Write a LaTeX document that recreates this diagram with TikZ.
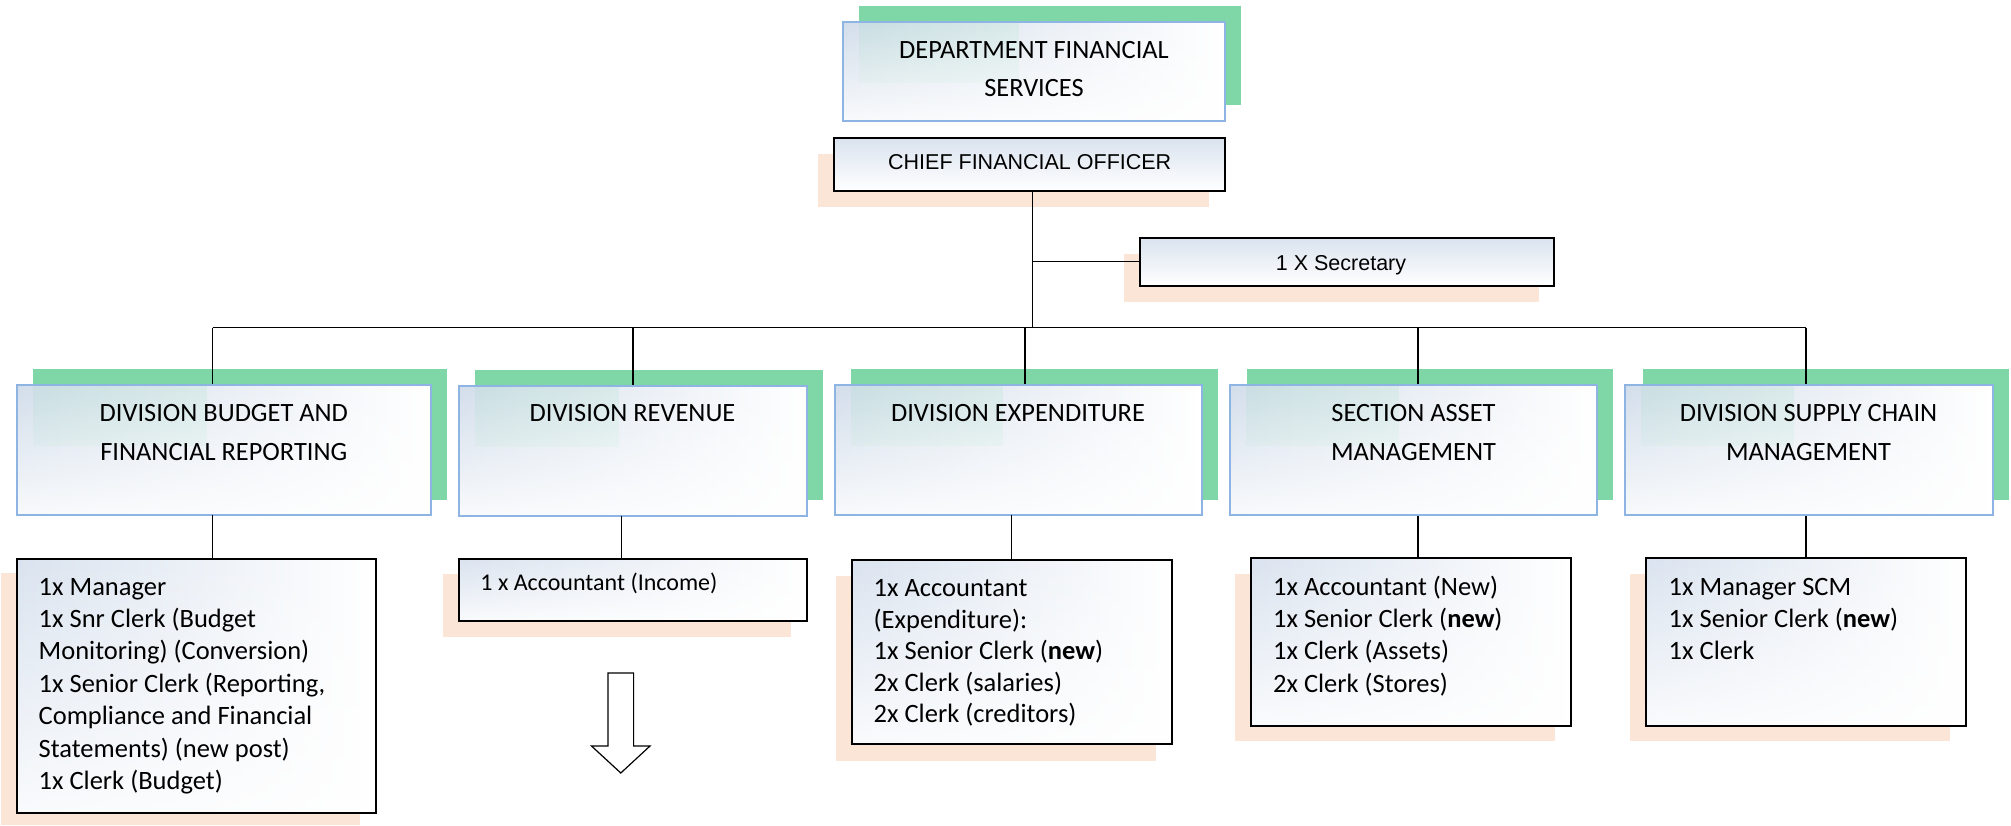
\documentclass[tikz,border=0pt]{standalone}
\usepackage{fontspec}
\setmainfont{Carlito}
\newfontfamily\arialf{Liberation Sans}
\usetikzlibrary{calc,fadings}
\definecolor{greenS}{HTML}{7FD7A7}
\definecolor{peachS}{HTML}{FBE5D6}
\definecolor{blueB}{HTML}{8EB4E3}
\definecolor{tintA}{HTML}{D3DEEB}
\definecolor{tintB}{HTML}{DAE3EF}
\tikzfading[name=fadebottom, top color=transparent!100, bottom color=transparent!0]
\newcommand{\mkbox}[6]{\node[#2, minimum width={(#5-#3)*0.5pt}, minimum height={(#6-#4)*0.5pt}] (#1) at ({(#3+#5)/2},{(#4+#6)/2}) {};}
\tikzset{
  whitefade/.style={path picture={
     \fill[greenS, fill opacity=#1] ([xshift=8pt]path picture bounding box.north west) rectangle ([yshift=-30.5pt]$(path picture bounding box.north west)!0.46!(path picture bounding box.north east)$);
     \fill[white, path fading=fadebottom, fill opacity=0.85] (path picture bounding box.south west) rectangle (path picture bounding box.north east);}},
  divbox/.style={rectangle, inner sep=0pt, draw=blueB, line width=1pt, left color=tintA, right color=white, whitefade=0.13},
  subbox/.style={rectangle, inner sep=0pt, draw=black, line width=1pt, left color=tintB, right color=white, whitefade=0},
  topbox/.style={rectangle, inner sep=0pt, draw=black, line width=1pt, top color=tintB, bottom color=white},
  gshadow/.style={fill=greenS},
  pshadow/.style={fill=peachS},
  conn/.style={draw=black, line width=0.75pt},
  divtext/.style={inner sep=0pt, anchor=base, font=\fontsize{13.2pt}{19.2pt}\selectfont},
  subtext/.style={inner sep=0pt, anchor=base west, font=\fontsize{13.25pt}{16.2pt}\selectfont},
  arialtext/.style={inner sep=0pt, anchor=base, font=\arialf\fontsize{10.75pt}{13pt}\selectfont},
}
\begin{document}
\begin{tikzpicture}[x=0.5pt,y=-0.5pt]
\useasboundingbox (0,0) rectangle (2011,825);
% shadows
\fill[gshadow] (859,6) rectangle (1241,104.7);
\fill[pshadow] (818,154) rectangle (1209,206.7);
\fill[pshadow] (1124,254) rectangle (1539,301.7);
\fill[gshadow] (33,369) rectangle (447,499.7);
\fill[gshadow] (475,370) rectangle (822.7,499.7);
\fill[gshadow] (851,369) rectangle (1218,499.7);
\fill[gshadow] (1246.5,369) rectangle (1613,499.7);
\fill[gshadow] (1642.5,369) rectangle (2009,499.7);
\fill[pshadow] (0.7,573.3) rectangle (360,825);
\fill[pshadow] (443,574) rectangle (791,636.7);
\fill[pshadow] (836,576) rectangle (1156,760.7);
\fill[pshadow] (1235,574) rectangle (1555,740.7);
\fill[pshadow] (1630,574) rectangle (1950,740.7);
% bus coordinates
\coordinate (busL) at (212.5,327.7);
\coordinate (busR) at (1806,327.7);
\coordinate (bus2) at (633,327.7);
\coordinate (bus3) at (1025,327.7);
\coordinate (bus4) at (1417.8,327.7);
\coordinate (busC) at (1032.7,327.7);
\coordinate (secJ) at (1032.7,261.5);
% boxes
\mkbox{dept}{divbox}{842.7}{22.3}{1225.3}{120.7}
\mkbox{cfo}{topbox}{834.3}{138.3}{1225}{191}
\mkbox{sec}{topbox}{1140}{238}{1554}{285.7}
% connectors (under the division boxes)
\draw[conn] (cfo.south -| busC) -- (busC);
\draw[conn] (secJ) -- (secJ -| sec.west);
\draw[conn] (busL) -- (busR);
\mkbox{div1}{divbox}{16.7}{385}{431}{515.3}
\mkbox{div2}{divbox}{458.5}{385.5}{806.5}{515.5}
\mkbox{div3}{divbox}{834.5}{385}{1201.7}{515}
\mkbox{div4}{divbox}{1230}{385}{1597}{515}
\mkbox{div5}{divbox}{1625.2}{385}{1992.8}{515}
\draw[conn] (busL) -- (busL |- div1.north);
\draw[conn] (bus2) -- (bus2 |- div2.north);
\draw[conn] (bus3) -- (bus3 |- div3.north);
\draw[conn] (bus4) -- (bus4 |- div4.north);
\draw[conn] (busR) -- (busR |- div5.north);
\mkbox{sub1}{subbox}{16.7}{559}{376}{812.7}
\mkbox{sub2}{subbox}{459}{559}{806.7}{621}
\mkbox{sub3}{subbox}{852.3}{560}{1172.3}{744.3}
\mkbox{sub4}{subbox}{1251}{558.3}{1571}{725.7}
\mkbox{sub5}{subbox}{1646}{558.3}{1966}{725.7}
\coordinate (d1b) at (212.7,515.3);
\coordinate (d2b) at (621.3,515.5);
\coordinate (d3b) at (1011.3,515);
\draw[conn] (d1b) -- (d1b |- sub1.north);
\draw[conn] (d2b) -- (d2b |- sub2.north);
\draw[conn] (d3b) -- (d3b |- sub3.north);
\draw[conn] (bus4 |- div4.south) -- (bus4 |- sub4.north);
\draw[conn] (busR |- div5.south) -- (busR |- sub5.north);
% texts
\node[divtext] (deptt) at (1034,58) {\parbox[t]{200pt}{\centering DEPARTMENT FINANCIAL\\SERVICES}};
\node[arialtext] (cfot) at (1029.7,169.3) {CHIEF FINANCIAL OFFICER};
\node[arialtext] (sect) at (1341,270.5) {1 X Secretary};
\node[divtext] (div1t) at (223.8,421.7) {\parbox[t]{200pt}{\centering DIVISION BUDGET AND\\FINANCIAL REPORTING}};
\node[divtext] (div2t) at (632.5,421.7) {\parbox[t]{170pt}{\centering DIVISION REVENUE}};
\node[divtext] (div3t) at (1018,421.7) {\parbox[t]{180pt}{\centering DIVISION EXPENDITURE}};
\node[divtext] (div4t) at (1413.5,421.7) {\parbox[t]{180pt}{\centering SECTION ASSET\\MANAGEMENT}};
\node[divtext] (div5t) at (1808.5,421.7) {\parbox[t]{180pt}{\centering DIVISION SUPPLY CHAIN\\MANAGEMENT}};
\node[subtext] (sub1t) at (38.3,595) {\parbox[t]{175pt}{\raggedright 1x Manager\\1x Snr Clerk (Budget\\Monitoring) (Conversion)\\1x Senior Clerk (Reporting,\\Compliance and Financial\\Statements) (new post)\\1x Clerk (Budget)}};
\node[subtext, font=\fontsize{12pt}{15pt}\selectfont] (sub2t) at (480,590.7) {1 x Accountant (Income)};
\node[subtext, font=\fontsize{13.25pt}{15.75pt}\selectfont] (sub3t) at (873.3,596.7) {\parbox[t]{150pt}{\raggedright 1x Accountant\\(Expenditure):\\1x Senior Clerk (\textbf{new})\\2x Clerk (salaries)\\2x Clerk (creditors)}};
\node[subtext] (sub4t) at (1272.7,595) {\parbox[t]{150pt}{\raggedright 1x Accountant (New)\\1x Senior Clerk (\textbf{new})\\1x Clerk (Assets)\\2x Clerk (Stores)}};
\node[subtext] (sub5t) at (1668.3,595) {\parbox[t]{150pt}{\raggedright 1x Manager SCM\\1x Senior Clerk (\textbf{new})\\1x Clerk}};
% hollow arrow
\draw[line width=0.6pt, fill=white] (608,673) -- (633.6,673) -- (633.6,746) -- (650,746) -- (620.8,773) -- (591.5,746) -- (608,746) -- cycle;
\end{tikzpicture}
\end{document}
